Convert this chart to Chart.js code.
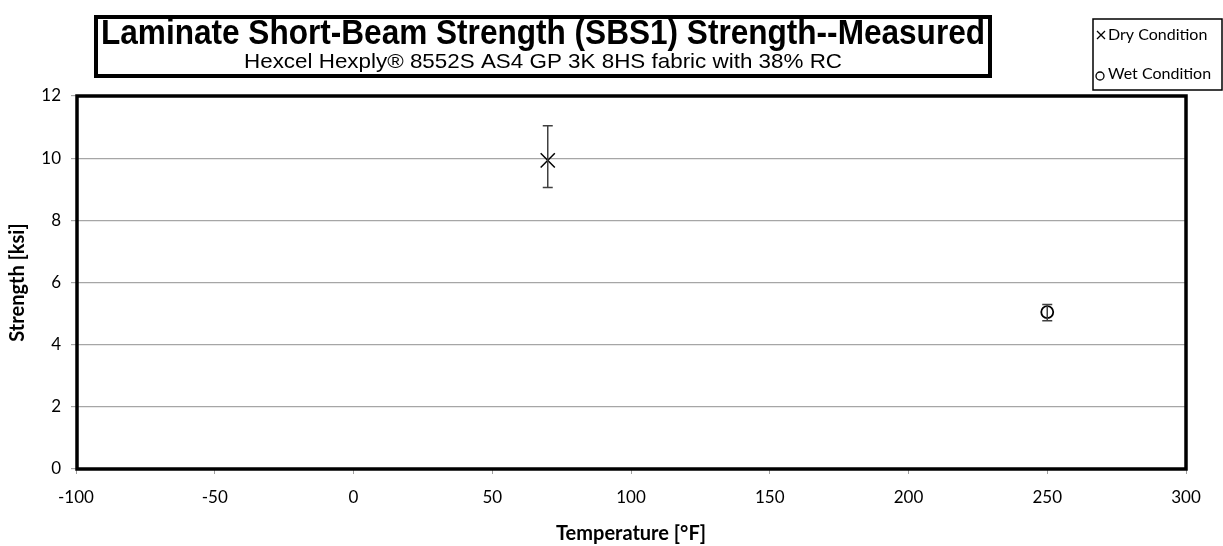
<!DOCTYPE html>
<html>
<head>
<meta charset="utf-8">
<script src="https://cdn.jsdelivr.net/npm/chart.js@4"></script>
<style>
  html, body { margin: 0; padding: 0; background: #fff; }
  #wrap { width: 1223px; height: 546px; }
</style>
</head>
<body>
<div id="wrap"><canvas id="grafico" width="1223" height="546"></canvas></div>
<script>
const titulo = 'Laminate Short-Beam Strength (SBS1) Strength--Measured'
const subtitulo = 'Hexcel Hexply\u00ae 8552S AS4 GP 3K 8HS fabric with 38% RC'

const dryTemp = [70]
const dryStrength = [9.93]
const dryLow = [9.06]
const dryHigh = [11.04]

const wetTemp = [250]
const wetStrength = [5.05]
const wetLow = [4.77]
const wetHigh = [5.29]

const xTicks = [-100, -50, 0, 50, 100, 150, 200, 250, 300]
const yTicks = [0, 2, 4, 6, 8, 10, 12]

const fuente = 'Lato, "Open Sans", sans-serif'

const puntos = (xs, ys, lo, hi) => xs.map((x, i) => ({ x: x, y: ys[i], lo: lo[i], hi: hi[i] }))

// fit text into a given width by squeezing horizontally
const textoAjustado = (ctx, txt, cx, cy, ancho) => {
    let w = ctx.measureText(txt).width
    ctx.save()
    ctx.translate(cx, cy)
    ctx.scale(ancho / w, 1)
    ctx.fillText(txt, 0, 0)
    ctx.restore()
}

const extras = {
    id: 'extras',
    afterDatasetsDraw(chart) {
        const ctx = chart.ctx
        const xs = chart.scales.x, ys = chart.scales.y
        // error bars
        ctx.save()
        ctx.strokeStyle = '#404040'
        ctx.lineWidth = 1.5
        chart.data.datasets.forEach(ds => {
            ds.data.forEach(p => {
                let px = xs.getPixelForValue(p.x)
                let y1 = ys.getPixelForValue(p.lo)
                let y2 = ys.getPixelForValue(p.hi)
                ctx.beginPath()
                ctx.moveTo(px, y1); ctx.lineTo(px, y2)
                ctx.moveTo(px - 5, y1); ctx.lineTo(px + 5, y1)
                ctx.moveTo(px - 5, y2); ctx.lineTo(px + 5, y2)
                ctx.stroke()
            })
        })
        ctx.restore()
    },
    afterDraw(chart) {
        const ctx = chart.ctx
        const a = chart.chartArea
        ctx.save()
        // plot border
        ctx.strokeStyle = '#000'
        ctx.lineWidth = 3.5
        ctx.strokeRect(a.left + 1, a.top, a.right - a.left - 1, a.bottom - a.top)

        // title box
        ctx.lineWidth = 4
        ctx.fillStyle = '#fff'
        ctx.fillRect(96, 17, 894, 59)
        ctx.strokeRect(96, 17, 894, 59)
        ctx.fillStyle = '#000'
        ctx.textAlign = 'center'
        ctx.textBaseline = 'middle'
        ctx.font = 'bold 35px "Liberation Sans Narrow", "Liberation Sans", Arial, sans-serif'
        textoAjustado(ctx, titulo, 543, 34, 884)
        ctx.font = '21px "Liberation Sans", Arial, sans-serif'
        textoAjustado(ctx, subtitulo, 543, 62, 598)

        // legend box
        ctx.lineWidth = 1.5
        ctx.fillStyle = '#fff'
        ctx.fillRect(1093, 19, 129, 71)
        ctx.strokeRect(1093, 19, 129, 71)
        ctx.fillStyle = '#000'
        ctx.textAlign = 'left'
        ctx.font = '16px ' + fuente
        ctx.lineWidth = 1.3
        ctx.beginPath()
        ctx.moveTo(1097, 31); ctx.lineTo(1105, 39)
        ctx.moveTo(1105, 31); ctx.lineTo(1097, 39)
        ctx.stroke()
        ctx.fillText('Dry Condition', 1108, 35)
        ctx.beginPath()
        ctx.arc(1100, 76, 4, 0, Math.PI * 2)
        ctx.stroke()
        ctx.fillText('Wet Condition', 1108, 74)
        ctx.restore()
    }
}

new Chart(document.getElementById('grafico'), {
    type: 'scatter',
    data: {
        datasets: [
            {
                label: 'Dry Condition',
                data: puntos(dryTemp, dryStrength, dryLow, dryHigh),
                pointStyle: 'crossRot',
                pointRadius: 10,
                borderColor: '#000',
                borderWidth: 1.5,
                backgroundColor: '#000'
            }, {
                label: 'Wet Condition',
                data: puntos(wetTemp, wetStrength, wetLow, wetHigh),
                pointStyle: 'circle',
                pointRadius: 6,
                borderColor: '#000',
                borderWidth: 1.8,
                backgroundColor: '#fff'
            }
        ]
    },
    options: {
        responsive: false,
        animation: false,
        layout: { padding: { top: 96, right: 37, left: 0, bottom: 0 } },
        plugins: {
            legend: { display: false },
            title: { display: false },
            tooltip: { enabled: false }
        },
        scales: {
            x: {
                type: 'linear',
                min: -100,
                max: 300,
                afterBuildTicks: s => { s.ticks = xTicks.map(v => ({ value: v })) },
                afterFit: s => { s.height = 77 },
                grid: { drawOnChartArea: false, tickLength: 5, color: '#a0a0a0' },
                border: { color: '#a0a0a0' },
                ticks: { color: '#000', font: { family: fuente, size: 17 }, padding: 13 },
                title: {
                    display: true,
                    text: 'Temperature [\u00b0F]',
                    color: '#000',
                    font: { family: fuente, size: 20, weight: 'bold' },
                    padding: { top: 2, bottom: 0 }
                }
            },
            y: {
                min: 0,
                max: 12,
                afterBuildTicks: s => { s.ticks = yTicks.map(v => ({ value: v })) },
                afterFit: s => { s.width = 76 },
                grid: { tickLength: 5, color: '#a6a6a6', lineWidth: 1.2 },
                border: { color: '#a0a0a0' },
                ticks: { color: '#000', font: { family: fuente, size: 17 }, padding: 10 },
                title: {
                    display: true,
                    text: 'Strength [ksi]',
                    color: '#000',
                    font: { family: fuente, size: 20, weight: 'bold' },
                    padding: { top: 6, bottom: 4 }
                }
            }
        }
    },
    plugins: [extras]
})
</script>
</body>
</html>
